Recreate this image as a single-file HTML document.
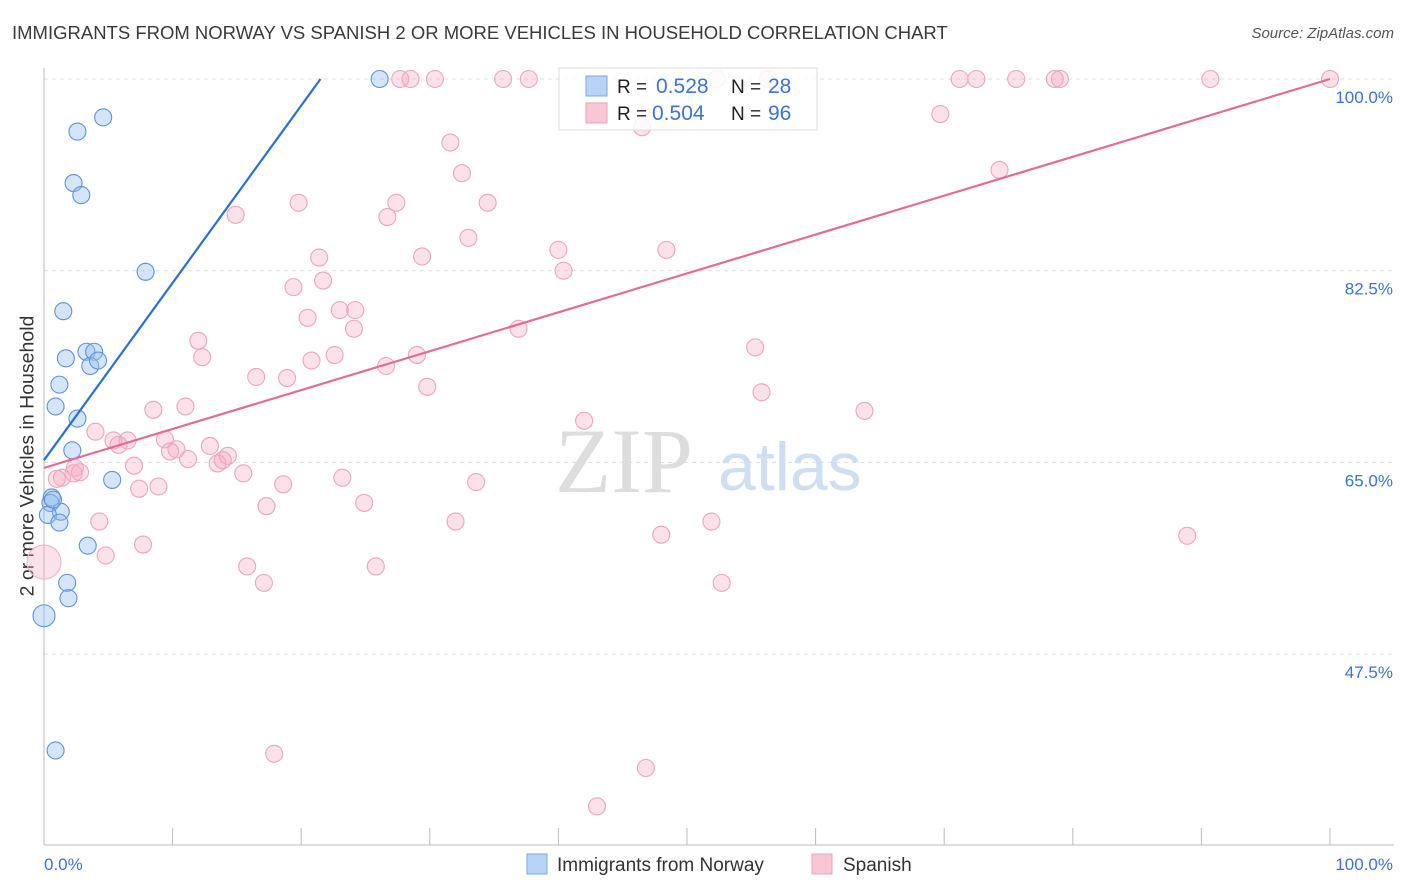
<!DOCTYPE html>
<html><head><meta charset="utf-8"><style>
body{margin:0;background:#fff;font-family:"Liberation Sans",sans-serif;}
#wrap{position:relative;width:1406px;height:892px;overflow:hidden;}
.t{position:absolute;white-space:nowrap;}
</style></head><body>
<div id="wrap">
<div class="t" style="left:12px;top:22px;font-size:18.5px;color:#3a3a3a;">IMMIGRANTS FROM NORWAY VS SPANISH 2 OR MORE VEHICLES IN HOUSEHOLD CORRELATION CHART</div>
<div class="t" style="right:12px;top:25px;font-size:15px;color:#555;font-style:italic;">Source: ZipAtlas.com</div>
<div class="t" style="left:28px;top:456px;font-size:19.5px;color:#333;transform:translate(-50%,-50%) rotate(-90deg);">2 or more Vehicles in Household</div>
<svg id="plot" width="1406" height="892" style="position:absolute;left:0;top:0"></svg>
</div>
<script>
const yTicks=[100,82.5,65,47.5];
const yTickLabels=["100.0%","82.5%","65.0%","47.5%"];
const xTickLabels=["0.0%","100.0%"];
const blueX=[26.1,4.6,2.6,2.3,2.9,7.9,1.5,1.7,3.3,3.9,3.6,4.2,1.2,0.9,2.6,2.2,5.3,0.6,0.5,1.3,0.3,1.2,3.4,1.8,1.9,0.9,0.7];
const blueY=[100,96.5,95.2,90.5,89.4,82.4,78.8,74.5,75.1,75.1,73.8,74.3,72.1,70.1,69.0,66.1,63.4,61.8,61.3,60.5,60.2,59.5,57.4,54.0,52.6,38.7,61.6];
const blueBigX=[0], blueBigY=[51.0];
const pinkX=[27.7,28.5,30.4,35.7,37.7,52.3,56.3,71.2,72.5,75.6,78.6,79.0,90.7,100,46.5,69.7,31.6,32.5,74.3,19.8,27.4,34.5,14.9,26.7,33.0,40.0,48.4,29.4,21.4,40.4,21.7,19.4,20.5,23.0,24.2,24.1,36.9,12.0,12.3,22.6,29.0,20.8,26.6,55.3,16.5,18.9,29.8,55.8,8.5,11.0,63.8,42.0,4.0,9.4,5.4,6.5,5.8,12.9,10.3,9.8,11.2,14.3,13.9,13.5,7.0,2.4,2.3,2.8,1.4,1.0,15.5,23.2,33.6,18.6,8.9,7.4,24.9,17.3,4.3,32.0,51.9,48.0,88.9,7.7,4.8,15.8,25.8,17.1,52.7,17.9,46.8,43.0];
const pinkY=[100,100,100,100,100,100,100,100,100,100,100,100,100,100,95.6,96.8,94.2,91.4,91.7,88.7,88.7,88.7,87.6,87.4,85.5,84.4,84.4,83.8,83.7,82.5,81.6,81.0,78.2,78.9,78.9,77.2,77.2,76.1,74.6,74.8,74.8,74.3,73.8,75.5,72.8,72.7,71.9,71.4,69.8,70.1,69.7,68.8,67.8,67.1,67.0,67.0,66.6,66.5,66.2,66.0,65.3,65.6,65.2,64.9,64.7,64.5,64.0,64.1,63.6,63.5,64.0,63.6,63.2,63.0,62.8,62.6,61.3,61.0,59.6,59.6,59.6,58.4,58.3,57.5,56.5,55.5,55.5,54.0,54.0,38.4,37.1,33.6];
const pinkBigX=[0], pinkBigY=[55.9];
const blueLine=[[0,65.2],[21.5,100]];
const pinkLine=[[0,64.5],[100,100]];
const legendR=["0.528","0.504"], legendN=["28","96"];

const X0=44,X1=1330,YTOP=79,PX=10.954;
const sx=v=>X0+(X1-X0)*v/100;
const sy=v=>YTOP+(100-v)*PX;
const svg=document.getElementById('plot');
const NS='http://www.w3.org/2000/svg';
function mk(tag,attrs){const e=document.createElementNS(NS,tag);for(const k in attrs)e.setAttribute(k,attrs[k]);svg.appendChild(e);return e;}

yTicks.forEach((t,i)=>{
  const g=mk('line',{x1:X0,x2:1394,y1:sy(t),y2:sy(t),stroke:'#ddd','stroke-dasharray':'4,4'});
  
  
  const tx=mk('text',{x:1393,y:sy(t)+24,'text-anchor':'end','font-size':17,fill:'#3b73d6','font-family':'Liberation Sans, sans-serif'});
  tx.textContent=yTickLabels[i];
  
  
});
const ya=mk('line',{x1:X0,x2:X0,y1:68,y2:845,stroke:'#bbb'});


const xa=mk('line',{x1:X0,x2:1394,y1:845,y2:845,stroke:'#bbb'});


for(let i=0;i<=10;i++){
  const tk=mk('line',{x1:sx(i*10),x2:sx(i*10),y1:828,y2:845,stroke:'#bbb'});
  
  
}
[[0,'start',44],[100,'end',1393]].forEach((d,i)=>{
  const tx=mk('text',{x:d[2],y:870,'text-anchor':d[1],'font-size':17,fill:'#3b73d6','font-family':'Liberation Sans, sans-serif'});
  tx.textContent=xTickLabels[i];
  
  
});
const wm=mk('text',{x:555,y:492,'font-size':92,fill:'#ddd','font-family':'Liberation Serif, serif'});
wm.textContent='ZIP';


const wm2=mk('text',{x:718,y:490,'font-size':68,fill:'#cfdff3','font-family':'Liberation Sans, sans-serif'});
wm2.textContent='atlas';



function dots(xs,ys,r,fill,stroke,name){
  xs.forEach((v,i)=>{
    const c=mk('circle',{cx:sx(v),cy:sy(ys[i]),r:r,fill:fill,stroke:stroke,'stroke-width':1.1});
    
    
  });
}
dots(pinkX,pinkY,8.5,'rgba(246,170,195,0.35)','#eaa6bd','spanish-point');
dots(pinkBigX,pinkBigY,17,'rgba(246,170,195,0.35)','#eeb6c8','spanish-point');
dots(blueX,blueY,8.5,'rgba(150,190,240,0.4)','#5d93dc','norway-point');
dots(blueBigX,blueBigY,11,'rgba(150,190,240,0.4)','#5d93dc','norway-point');

const bl=mk('line',{x1:sx(blueLine[0][0]),y1:sy(blueLine[0][1]),x2:sx(blueLine[1][0]),y2:sy(blueLine[1][1]),stroke:'#2a6fd6','stroke-width':2.2});


const pl=mk('line',{x1:sx(pinkLine[0][0]),y1:sy(pinkLine[0][1]),x2:sx(pinkLine[1][0]),y2:sy(pinkLine[1][1]),stroke:'#e56b94','stroke-width':2.2});



const lb=mk('rect',{x:559,y:68,width:258,height:62,fill:'rgba(255,255,255,0.85)',stroke:'#ddd'});


const cols=[['#b7d3f6','#7aa8e6'],['#f9c6d5','#eaa0ba']];
[0,1].forEach(i=>{
  const y=86+i*27;
  const s=mk('rect',{x:586,y:y-10,width:21,height:20,fill:cols[i][0],stroke:cols[i][1]});
  
  
  const t1=mk('text',{x:617,y:y+7,'font-size':19,fill:'#222','font-family':'Liberation Sans, sans-serif'});t1.textContent='R = ';
  
  
  const t2=mk('text',{x:i?652:656,y:y+7,'font-size':21,fill:'#3b73d6','font-family':'Liberation Sans, sans-serif'});t2.textContent=legendR[i];
  
  
  const t3=mk('text',{x:731,y:y+7,'font-size':19,fill:'#222','font-family':'Liberation Sans, sans-serif'});t3.textContent='N = ';
  
  
  const t4=mk('text',{x:768,y:y+7,'font-size':21,fill:'#3b73d6','font-family':'Liberation Sans, sans-serif'});t4.textContent=legendN[i];
  
  
});
[['Immigrants from Norway',527,557],['Spanish',812,843]].forEach((d,i)=>{
  const s=mk('rect',{x:d[1],y:854,width:20,height:20,fill:cols[i][0],stroke:cols[i][1]});
  
  
  const t=mk('text',{x:d[2],y:871,'font-size':19,fill:'#333','font-family':'Liberation Sans, sans-serif'});t.textContent=d[0];
  
  
});
</script>
</body></html>
